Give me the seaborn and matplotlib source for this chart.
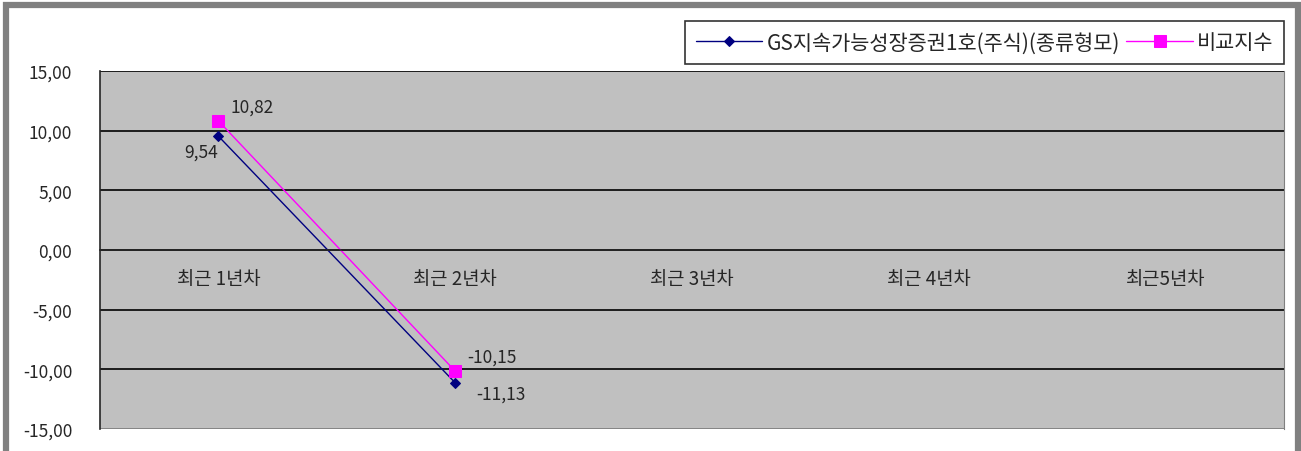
import numpy as np
import pandas as pd
import seaborn as sns
import matplotlib.pyplot as plt
from matplotlib.patches import Rectangle
from matplotlib.ticker import FuncFormatter

categories = ["최근 1년차", "최근 2년차", "최근 3년차", "최근 4년차", "최근5년차"]
fund_name = "GS지속가능성장증권1호(주식)(종류형모)"
index_name = "비교지수"
fund_values = [9.54, -11.13, np.nan, np.nan, np.nan]
index_values = [10.82, -10.15, np.nan, np.nan, np.nan]
y_ticks = [15, 10, 5, 0, -5, -10, -15]

sns.set_style("white")
plt.rcParams["font.family"] = ["Noto Sans CJK KR", "DejaVu Sans"]


def fmt(v):
    return f"{v:.2f}".replace(".", ",")


df = pd.DataFrame({
    "pos": np.arange(len(categories)),
    fund_name: fund_values,
    index_name: index_values,
})

fig = plt.figure(figsize=(13.01, 4.52), dpi=100)
ax = fig.add_axes([100 / 1301, 1 - 430 / 452, 1184 / 1301, 358 / 452])
ax.set_facecolor("#C0C0C0")

sns.lineplot(data=df, x="pos", y=fund_name, ax=ax, color="#000080", lw=1,
             marker="D", markersize=7, markeredgecolor="#000080", label=fund_name)
sns.lineplot(data=df, x="pos", y=index_name, ax=ax, color="#FF00FF", lw=1,
             marker="s", markersize=10, markeredgecolor="#FF00FF", label=index_name)

ax.set_xlim(-0.5, len(categories) - 0.5)
ax.set_ylim(-15, 15)
ax.set_yticks(y_ticks)
ax.yaxis.set_major_formatter(FuncFormatter(lambda v, p: fmt(v)))
ax.tick_params(axis="y", length=0, labelsize=12.5, pad=20)
for t in y_ticks[:-1]:
    ax.axhline(t, color="black", lw=1.2, zorder=1)

# category axis sits on the zero line
ax.spines["bottom"].set_position(("data", 0))
ax.spines["bottom"].set_linewidth(1.2)
ax.spines["left"].set_linewidth(1.2)
ax.spines["top"].set_visible(False)
ax.spines["right"].set_color("#808080")
ax.axhline(-15, color="#808080", lw=2)
ax.set_xticks(np.arange(len(categories)))
ax.set_xticklabels(categories, fontsize=13.5)
ax.set_xticks(np.arange(len(categories) + 1) - 0.5, minor=True)
ax.tick_params(axis="x", which="major", length=0, pad=13)
ax.tick_params(axis="x", which="minor", direction="in", length=4, width=1)
ax.set_xlabel("")
ax.set_ylabel("")

# data labels
for i, v in enumerate(fund_values):
    if np.isnan(v):
        continue
    if v > 0:
        ax.annotate(fmt(v), (i, v), xytext=(0, -5), textcoords="offset points",
                    ha="right", va="top", fontsize=12.5)
    else:
        ax.annotate(fmt(v), (i, v), xytext=(15, -8), textcoords="offset points",
                    ha="left", va="center", fontsize=12.5)
for i, v in enumerate(index_values):
    if np.isnan(v):
        continue
    ax.annotate(fmt(v), (i, v), xytext=(9, 4), textcoords="offset points",
                ha="left", va="bottom", fontsize=12.5)

ax.legend_.remove()
h, l = ax.get_legend_handles_labels()
for hd in h:
    hd.set_markersize(hd.get_markersize() * 0.8)
leg = fig.legend(h, l, loc="upper right", bbox_to_anchor=(1284 / 1301, 1 - 22 / 452),
                 ncol=2, frameon=True, fancybox=False, fontsize=15,
                 handlelength=3.2, columnspacing=0.3, handletextpad=0.2,
                 borderpad=0.5, borderaxespad=0)
leg.get_frame().set_edgecolor("black")
leg.get_frame().set_linewidth(1.2)

# outer grey frame
fig.patches.append(Rectangle((6 / 1301, -0.1), 1292 / 1301, 1.1 - 6 / 452,
                             transform=fig.transFigure, fill=False,
                             edgecolor="#808080", lw=4.5))

fig.savefig("out.png", dpi=100)
